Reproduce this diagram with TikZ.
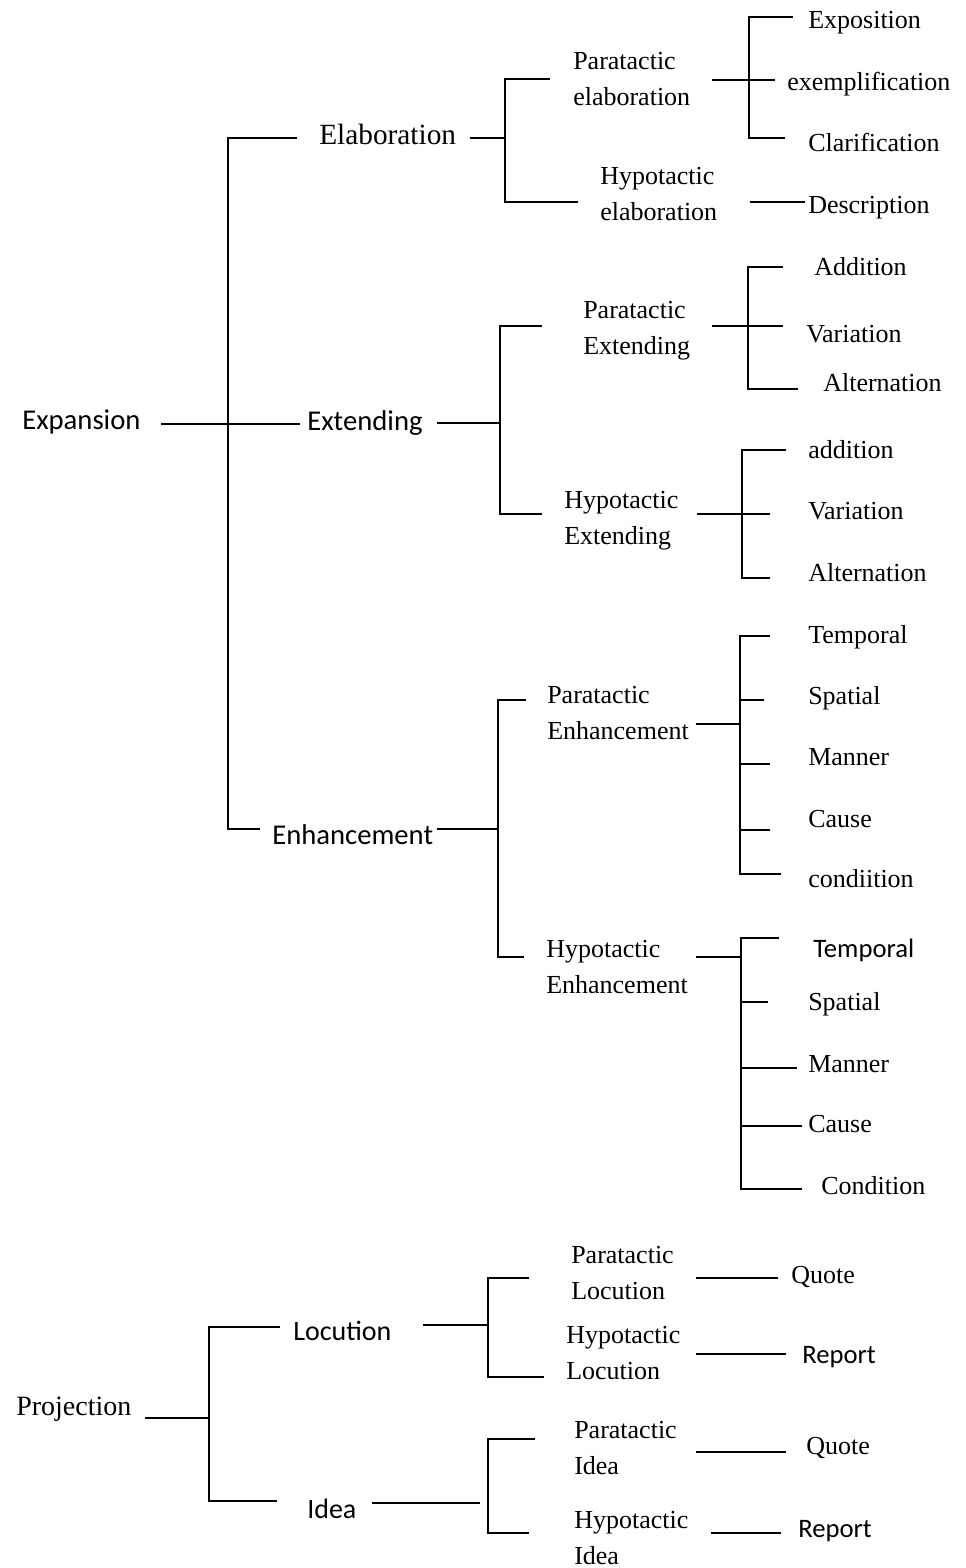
\documentclass[tikz,border=0pt]{standalone}
\usepackage{fontspec}
\setmainfont{Liberation Serif}
\newfontfamily\calfam{Carlito}
\newcommand\tnr{\fontsize{19.5}{26.5}\selectfont}
\newcommand\tnrbig{\fontsize{22}{26.5}\selectfont}
\newcommand\tnrproj{\fontsize{21}{26.5}\selectfont}
\newcommand\calbig{\calfam\fontsize{21.5}{26.5}\selectfont}
\newcommand\calmid{\calfam\fontsize{21}{26.5}\selectfont}
\newcommand\calsm{\calfam\fontsize{20}{26.5}\selectfont}
\begin{document}
\begin{tikzpicture}[x=0.75pt,y=-0.75pt,
  branchline/.style={line width=1.6pt},
  serifnode/.style={font=\tnr, anchor=base west, inner sep=0pt, align=left},
  serifbig/.style={font=\tnrbig, anchor=base west, inner sep=0pt},
  serifproj/.style={font=\tnrproj, anchor=base west, inner sep=0pt},
  sansbig/.style={font=\calbig, anchor=base west, inner sep=0pt},
  sansmid/.style={font=\calmid, anchor=base west, inner sep=0pt},
  sanssmall/.style={font=\calsm, anchor=base west, inner sep=0pt}]
\fill[white] (0,0) rectangle (965,1568);
\path[use as bounding box] (0,0) rectangle (965,1568);

% ---------------- texts (two-line nodes: base = last line) ----------------
\node[sansbig] (expansion) at (22,429) {Expansion};
\node[serifbig] (elab) at (319,144) {Elaboration};
\node[sansbig] (ext) at (307,430) {Extending};
\node[sansbig] (enh) at (272,844) {Enhancement};

\node[serifnode] (pelab) at (573,105) {Paratactic\\elaboration};
\node[serifnode] (helab) at (600,220) {Hypotactic\\elaboration};
\node[serifnode] (expo) at (808,28) {Exposition};
\node[serifnode] (exem) at (787,90) {exemplification};
\node[serifnode] (clar) at (808,151) {Clarification};
\node[serifnode] (desc) at (808,213) {Description};

\node[serifnode] (pext) at (583,354) {Paratactic\\Extending};
\node[serifnode] (add1) at (814,275) {Addition};
\node[serifnode] (var1) at (806,342) {Variation};
\node[serifnode] (alt1) at (823,391) {Alternation};
\node[serifnode] (hext) at (564,544) {Hypotactic\\Extending};
\node[serifnode] (add2) at (808,458) {addition};
\node[serifnode] (var2) at (808,519) {Variation};
\node[serifnode] (alt2) at (808,581) {Alternation};

\node[serifnode] (penh) at (547,739) {Paratactic\\Enhancement};
\node[serifnode] (tem1) at (808,643) {Temporal};
\node[serifnode] (spa1) at (808,704) {Spatial};
\node[serifnode] (man1) at (808,765) {Manner};
\node[serifnode] (cau1) at (808,827) {Cause};
\node[serifnode] (con1) at (808,887) {condiition};
\node[serifnode] (henh) at (546,993) {Hypotactic\\Enhancement};
\node[sanssmall] (tem2) at (813,957) {Temporal};
\node[serifnode] (spa2) at (808,1010) {Spatial};
\node[serifnode] (man2) at (808,1072) {Manner};
\node[serifnode] (cau2) at (808,1132) {Cause};
\node[serifnode] (con2) at (821,1194) {Condition};

\node[serifproj] (proj) at (16,1415) {Projection};
\node[sansmid] (loc) at (293,1340) {Locution};
\node[sansmid] (idea) at (307,1518) {Idea};
\node[serifnode] (ploc) at (571,1299) {Paratactic\\Locution};
\node[serifnode] (hloc) at (566,1379) {Hypotactic\\Locution};
\node[serifnode] (quo1) at (791,1283) {Quote};
\node[sanssmall] (rep1) at (802,1363) {Report};
\node[serifnode] (pidea) at (574,1474) {Paratactic\\Idea};
\node[serifnode] (hidea) at (574,1564) {Hypotactic\\Idea};
\node[serifnode] (quo2) at (806,1454) {Quote};
\node[sanssmall] (rep2) at (798,1537) {Report};

% ---------------- connectors ----------------
% Expansion
\coordinate (ex-a) at (161,424); \coordinate (ex-b) at (300,424);
\coordinate (ex-t) at (297,138); \coordinate (ex-tc) at (228,138);
\coordinate (ex-bc) at (228,829); \coordinate (ex-be) at (260,829);
\draw[branchline] (ex-a) -- (ex-b);
\draw[branchline] (ex-t) -- (ex-tc) -- (ex-bc) -- (ex-be);

% Elaboration
\coordinate (el-a) at (470,138); \coordinate (el-b) at (505,138);
\coordinate (el-t) at (550,79); \coordinate (el-tc) at (505,79);
\coordinate (el-bc) at (505,202); \coordinate (el-be) at (578,202);
\draw[branchline] (el-a) -- (el-b);
\draw[branchline] (el-t) -- (el-tc) -- (el-bc) -- (el-be);

% Paratactic elaboration
\coordinate (pe-a) at (712,80); \coordinate (pe-b) at (775,80);
\coordinate (pe-t) at (793,17); \coordinate (pe-tc) at (749,17);
\coordinate (pe-bc) at (749,138); \coordinate (pe-be) at (785,138);
\draw[branchline] (pe-a) -- (pe-b);
\draw[branchline] (pe-t) -- (pe-tc) -- (pe-bc) -- (pe-be);
% Hypotactic elaboration
\coordinate (he-a) at (750,202); \coordinate (he-b) at (805,202);
\draw[branchline] (he-a) -- (he-b);

% Extending
\coordinate (xt-a) at (437,423); \coordinate (xt-b) at (500,423);
\coordinate (xt-t) at (542,326); \coordinate (xt-tc) at (500,326);
\coordinate (xt-bc) at (500,514); \coordinate (xt-be) at (542,514);
\draw[branchline] (xt-a) -- (xt-b);
\draw[branchline] (xt-t) -- (xt-tc) -- (xt-bc) -- (xt-be);

% Paratactic extending
\coordinate (px-a) at (712,326); \coordinate (px-b) at (783,326);
\coordinate (px-t) at (783,267); \coordinate (px-tc) at (748,267);
\coordinate (px-bc) at (748,389); \coordinate (px-be) at (798,389);
\draw[branchline] (px-a) -- (px-b);
\draw[branchline] (px-t) -- (px-tc) -- (px-bc) -- (px-be);

% Hypotactic extending
\coordinate (hx-a) at (697,514); \coordinate (hx-b) at (770,514);
\coordinate (hx-t) at (786,450); \coordinate (hx-tc) at (742,450);
\coordinate (hx-bc) at (742,578); \coordinate (hx-be) at (770,578);
\draw[branchline] (hx-a) -- (hx-b);
\draw[branchline] (hx-t) -- (hx-tc) -- (hx-bc) -- (hx-be);

% Enhancement
\coordinate (en-a) at (437,829); \coordinate (en-b) at (498,829);
\coordinate (en-t) at (526,700); \coordinate (en-tc) at (498,700);
\coordinate (en-bc) at (498,957); \coordinate (en-be) at (524,957);
\draw[branchline] (en-a) -- (en-b);
\draw[branchline] (en-t) -- (en-tc) -- (en-bc) -- (en-be);

% Paratactic enhancement
\coordinate (pn-a) at (696,724); \coordinate (pn-b) at (741,724);
\coordinate (pn-1) at (770,636); \coordinate (pn-1c) at (740,636);
\coordinate (pn-5c) at (740,874); \coordinate (pn-5) at (781,874);
\coordinate (pn-2c) at (740,700); \coordinate (pn-2) at (764,700);
\coordinate (pn-3c) at (740,764); \coordinate (pn-3) at (770,764);
\coordinate (pn-4c) at (740,830); \coordinate (pn-4) at (770,830);
\draw[branchline] (pn-a) -- (pn-b);
\draw[branchline] (pn-1) -- (pn-1c) -- (pn-5c) -- (pn-5);
\draw[branchline] (pn-2c) -- (pn-2);
\draw[branchline] (pn-3c) -- (pn-3);
\draw[branchline] (pn-4c) -- (pn-4);

% Hypotactic enhancement
\coordinate (hn-a) at (696,957); \coordinate (hn-b) at (741,957);
\coordinate (hn-1) at (779,938); \coordinate (hn-1c) at (741,938);
\coordinate (hn-5c) at (741,1189); \coordinate (hn-5) at (802,1189);
\coordinate (hn-2c) at (741,1002); \coordinate (hn-2) at (768,1002);
\coordinate (hn-3c) at (741,1068); \coordinate (hn-3) at (797,1068);
\coordinate (hn-4c) at (741,1126); \coordinate (hn-4) at (802,1126);
\draw[branchline] (hn-a) -- (hn-b);
\draw[branchline] (hn-1) -- (hn-1c) -- (hn-5c) -- (hn-5);
\draw[branchline] (hn-2c) -- (hn-2);
\draw[branchline] (hn-3c) -- (hn-3);
\draw[branchline] (hn-4c) -- (hn-4);

% Projection
\coordinate (pr-a) at (145,1418); \coordinate (pr-b) at (209,1418);
\coordinate (pr-t) at (280,1327); \coordinate (pr-tc) at (209,1327);
\coordinate (pr-bc) at (209,1501); \coordinate (pr-be) at (277,1501);
\draw[branchline] (pr-a) -- (pr-b);
\draw[branchline] (pr-t) -- (pr-tc) -- (pr-bc) -- (pr-be);

% Locution
\coordinate (lo-a) at (423,1325); \coordinate (lo-b) at (488,1325);
\coordinate (lo-t) at (529,1278); \coordinate (lo-tc) at (488,1278);
\coordinate (lo-bc) at (488,1377); \coordinate (lo-be) at (544,1377);
\draw[branchline] (lo-a) -- (lo-b);
\draw[branchline] (lo-t) -- (lo-tc) -- (lo-bc) -- (lo-be);
\coordinate (pl-a) at (696,1278); \coordinate (pl-b) at (778,1278);
\draw[branchline] (pl-a) -- (pl-b);
\coordinate (hl-a) at (696,1354); \coordinate (hl-b) at (786,1354);
\draw[branchline] (hl-a) -- (hl-b);

% Idea
\coordinate (id-a) at (372,1503); \coordinate (id-b) at (480,1503);
\coordinate (id-t) at (535,1439); \coordinate (id-tc) at (488,1439);
\coordinate (id-bc) at (488,1533); \coordinate (id-be) at (529,1533);
\draw[branchline] (id-a) -- (id-b);
\draw[branchline] (id-t) -- (id-tc) -- (id-bc) -- (id-be);
\coordinate (pi-a) at (696,1452); \coordinate (pi-b) at (786,1452);
\draw[branchline] (pi-a) -- (pi-b);
\coordinate (hi-a) at (711,1533); \coordinate (hi-b) at (781,1533);
\draw[branchline] (hi-a) -- (hi-b);
\end{tikzpicture}
\end{document}
